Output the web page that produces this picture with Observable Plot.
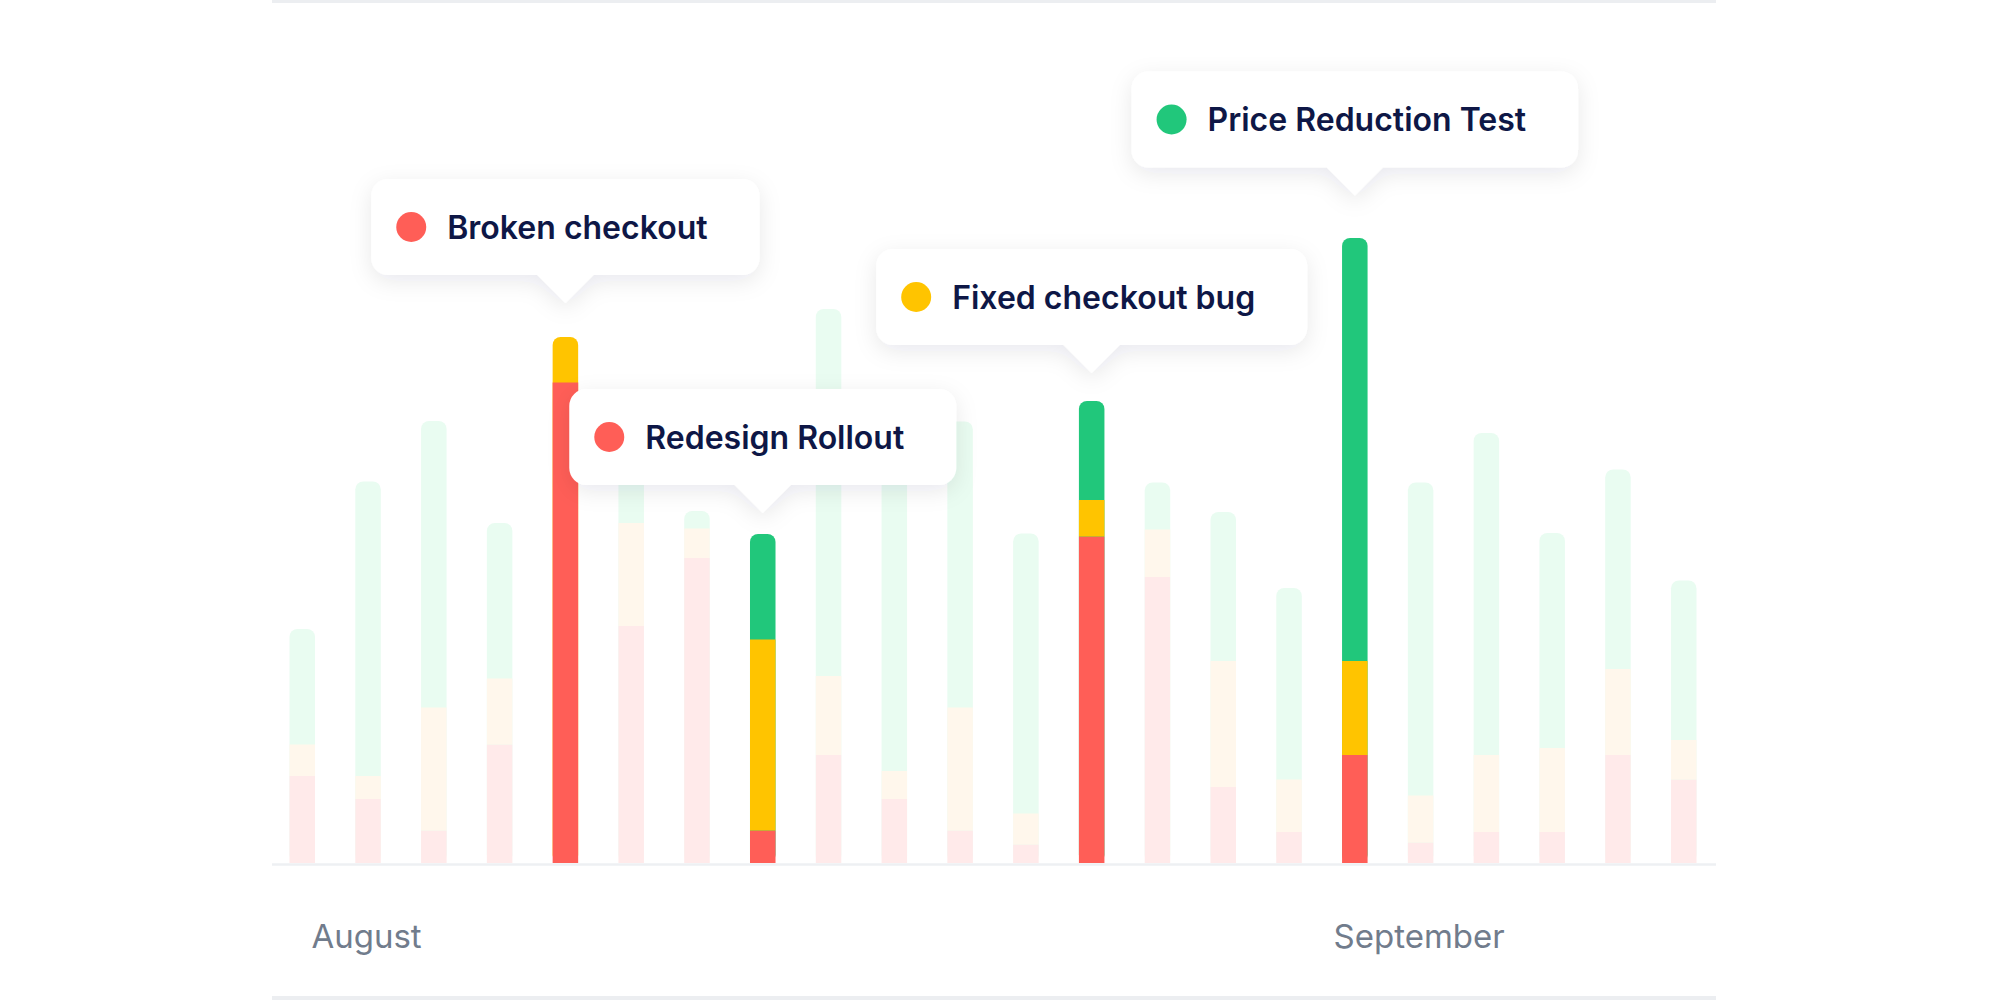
<!DOCTYPE html>
<html>
<head>
<meta charset="utf-8">
<script src="https://cdn.jsdelivr.net/npm/d3@7"></script>
<script src="https://cdn.jsdelivr.net/npm/@observablehq/plot@0.6"></script>
<style>
  html, body { margin: 0; padding: 0; background: #ffffff; width: 2000px; height: 1000px; overflow: hidden; }
  #wrap { position: absolute; left: 272px; top: 0; width: 1444px; height: 1000px; }
  .edge { position: absolute; left: 0; width: 100%; background: #eceef1; }
  #chart { position: absolute; left: 0; top: 0; }
  #chart svg { overflow: visible; }
</style>
</head>
<body>
<div id="wrap">
  <div class="edge" style="top:0;height:3px"></div>
  <div class="edge" style="top:996px;height:4px"></div>
  <div id="chart"></div>
</div>
<script>
// ---- data ----
const days = ["D01","D02","D03","D04","D05","D06","D07","D08","D09","D10","D11",
              "D12","D13","D14","D15","D16","D17","D18","D19","D20","D21","D22"];
const series = ["red", "yellow", "green"];
const red    = [17.4, 12.8,  6.5, 23.7, 96.1, 47.4, 61.0,  6.5, 21.6, 12.8,  6.5,
                 3.7, 65.3, 57.2, 15.2,  6.2, 21.6,  4.1,  6.2,  6.2, 21.6, 16.7];
const yellow = [ 6.3,  4.6, 24.6, 13.2,  9.1, 20.6,  5.9, 38.2, 15.8,  5.6, 24.6,
                 6.2,  7.3,  9.5, 25.2, 10.5, 18.8,  9.4, 15.4, 16.8, 17.2,  7.9];
const green  = [23.1, 58.9, 57.3, 31.1,  0.0, 16.0,  3.5, 21.1, 73.4, 63.6, 57.2,
                56.0, 19.8,  9.4, 29.8, 38.3, 84.6, 62.6, 64.4, 43.0, 39.9, 31.9];

const eventLabels = ["Broken checkout", "Redesign Rollout", "Fixed checkout bug", "Price Reduction Test"];
const eventDays   = ["D05", "D08", "D13", "D17"];
const eventSeries = ["red", "red", "yellow", "green"];
const eventLevels = [112, 70, 98, 133.5];

const monthLabels  = ["August", "September"];
const monthAnchors = ["D02", "D18"];

// ---- styles ----
const seriesColor = { red: "#FF5E57", yellow: "#FFC400", green: "#21C77B" };
const fadedColor  = { red: "#FFEAEA", yellow: "#FFF7EC", green: "#E9FCF1" };
const textColor = "#0E1746";
const monthColor = "#717C8C";

// ---- tables ----
const valuesBySeries = { red, yellow, green };
const rows = [];
const caps = [];
days.forEach((day, i) => {
  const hi = eventDays.includes(day);
  const vals = series.map(s => valuesBySeries[s][i]);
  let top = -1;
  vals.forEach((v, k) => { if (v > 0) top = k; });
  const col = s => hi ? seriesColor[s] : fadedColor[s];
  caps.push({ day, total: d3.sum(vals), color: col(series[top]) });
  series.forEach((s, k) => {
    if (k < top && vals[k] > 0) rows.push({ day, series: s, value: vals[k], color: col(s) });
  });
});

const chart = Plot.plot({
  width: 1444,
  height: 1000,
  marginLeft: 17.5,
  marginRight: 19.5,
  marginTop: 13,
  marginBottom: 137,
  x: { domain: days, paddingInner: 0.612, paddingOuter: 0, round: false, axis: null },
  y: { domain: [0, 170], axis: null },
  color: { type: "identity" },
  style: { background: "transparent", overflow: "visible" },
  marks: [
    Plot.ruleY([0], { stroke: "#eef0f3", strokeWidth: 2.5, insetLeft: -17.5, insetRight: -19.5, dy: 1 }),
    Plot.barY(caps, { x: "day", y: "total", fill: "color", rx: 8 }),
    Plot.barY(rows, Plot.stackY({ x: "day", y: "value", z: "series", fill: "color" })),
    Plot.text(monthLabels, {
      x: monthAnchors, text: d => d, frameAnchor: "bottom", lineAnchor: "bottom",
      dy: 84, dx: -2, textAnchor: "middle",
      fill: monthColor, fontSize: 33, fontFamily: "Inter", fontWeight: 400
    })
  ]
});
document.getElementById("chart").appendChild(chart);

// ---- event tooltips, positioned through the chart's scales ----
const sx = chart.scale("x");
const sy = chart.scale("y");
const svg = d3.select(chart);
const defs = svg.append("defs");
const filt = defs.append("filter").attr("id", "tipShadow")
  .attr("x", "-30%").attr("y", "-60%").attr("width", "160%").attr("height", "220%");
filt.append("feDropShadow").attr("dx", 0).attr("dy", 6).attr("stdDeviation", 11)
  .attr("flood-color", "#1b2440").attr("flood-opacity", 0.09);

const boxH = 96, radius = 17, pw = 28, ph = 28;
const padDot = 40, padText = 76, padRight = 52, dotR = 15;
const layer = svg.append("g").attr("class", "events").attr("text-anchor", "start");

eventLabels.forEach((label, i) => {
  const tx = sx.apply(eventDays[i]) + sx.bandwidth / 2;
  const ty = sy.apply(eventLevels[i]);
  const g = layer.append("g");
  const path = g.append("path");
  const t = g.append("text")
    .attr("text-anchor", "start")
    .attr("font-family", "Inter").attr("font-weight", 600).attr("font-size", 32)
    .attr("fill", textColor).text(label);
  const tw = t.node().getComputedTextLength();
  const w = padText + tw + padRight;
  const x0 = tx - w / 2;
  const y1 = ty - ph;
  const y0 = y1 - boxH;
  const r = radius;
  path.attr("d",
    `M${x0 + r},${y0} H${x0 + w - r} A${r},${r} 0 0 1 ${x0 + w},${y0 + r} V${y1 - r} ` +
    `A${r},${r} 0 0 1 ${x0 + w - r},${y1} H${tx + pw} L${tx},${ty} L${tx - pw},${y1} ` +
    `H${x0 + r} A${r},${r} 0 0 1 ${x0},${y1 - r} V${y0 + r} A${r},${r} 0 0 1 ${x0 + r},${y0} Z`)
    .attr("fill", "#ffffff").attr("filter", "url(#tipShadow)");
  const cy = (y0 + y1) / 2;
  g.append("circle").attr("cx", x0 + padDot).attr("cy", cy).attr("r", dotR)
    .attr("fill", seriesColor[eventSeries[i]]);
  t.attr("x", x0 + padText).attr("y", cy + 11.5);
  t.raise();
});
</script>
</body>
</html>
